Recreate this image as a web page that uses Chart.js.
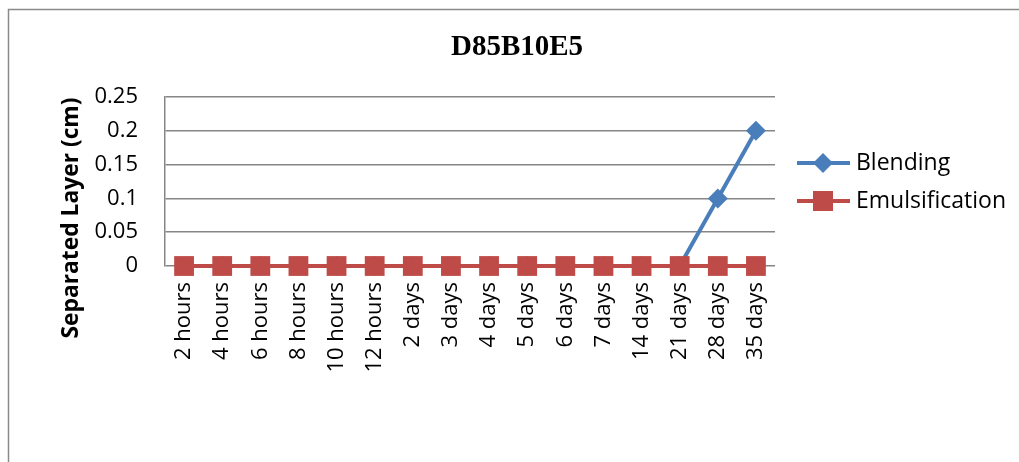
<!DOCTYPE html>
<html>
<head>
<meta charset="utf-8">
<script src="https://cdn.jsdelivr.net/npm/chart.js@4/dist/chart.umd.min.js"></script>
<style>
  html, body { margin: 0; padding: 0; background: #ffffff; }
  #wrap { width: 1019px; height: 462px; position: relative; }
</style>
</head>
<body>
<div id="wrap"><canvas id="c" width="1019" height="462"></canvas></div>
<script>
const chartTitle = 'D85B10E5';
const yAxisTitle = 'Separated Layer (cm)';
const categories = ['2 hours','4 hours','6 hours','8 hours','10 hours','12 hours','2 days','3 days','4 days','5 days','6 days','7 days','14 days','21 days','28 days','35 days'];
const blending = [0,0,0,0,0,0,0,0,0,0,0,0,0,0,0.1,0.2];
const emulsification = [0,0,0,0,0,0,0,0,0,0,0,0,0,0,0,0];
const seriesNames = ['Blending','Emulsification'];
const yTicks = [0, 0.05, 0.1, 0.15, 0.2, 0.25];

const BLUE = '#4A7EBB';
const RED = '#BE4B48';
const GRID = '#868686';
const FONT = '"Open Sans", "Liberation Sans", sans-serif';

const decorPlugin = {
  id: 'decor',
  beforeDraw(chart) {
    const ctx = chart.ctx;
    ctx.save();
    ctx.fillStyle = '#ffffff';
    ctx.fillRect(0, 0, chart.width, chart.height);
    // outer frame
    ctx.strokeStyle = '#8a8a8a';
    ctx.lineWidth = 1.5;
    ctx.beginPath();
    ctx.moveTo(8.5, chart.height + 5);
    ctx.lineTo(8.5, 9.5);
    ctx.lineTo(chart.width + 5, 9.5);
    ctx.stroke();
    ctx.restore();
  },
  afterDraw(chart) {
    const ctx = chart.ctx;
    ctx.save();
    // title
    ctx.fillStyle = '#000';
    ctx.font = 'bold 29px "Liberation Serif", "Times New Roman", serif';
    ctx.textAlign = 'center';
    ctx.textBaseline = 'middle';
    ctx.fillText(chartTitle, 517, 48);
    // y-axis title
    ctx.save();
    ctx.translate(72, 218);
    ctx.rotate(-Math.PI / 2);
    ctx.font = 'bold 20px ' + FONT;
    const w = ctx.measureText(yAxisTitle).width;
    const size = 20 * 241 / w;
    ctx.font = 'bold ' + size.toFixed(1) + 'px ' + FONT;
    ctx.textAlign = 'center';
    ctx.textBaseline = 'middle';
    ctx.fillText(yAxisTitle, 0, 0);
    ctx.restore();
    // legend
    const items = chart.data.datasets.map(d => d);
    const ys = [163, 201];
    items.forEach((ds, i) => {
      const y = ys[i];
      ctx.strokeStyle = ds.borderColor;
      ctx.lineWidth = 4;
      ctx.beginPath();
      ctx.moveTo(797, y);
      ctx.lineTo(850, y);
      ctx.stroke();
      ctx.fillStyle = ds.backgroundColor;
      if (ds.pointStyle === 'rectRot') {
        ctx.beginPath();
        ctx.moveTo(823 - 10, y);
        ctx.lineTo(823, y - 10);
        ctx.lineTo(823 + 10, y);
        ctx.lineTo(823, y + 10);
        ctx.closePath();
        ctx.fill();
      } else {
        ctx.fillRect(823 - 10, y - 10, 20, 20);
      }
      ctx.fillStyle = '#000';
      ctx.font = '23px ' + FONT;
      ctx.textAlign = 'left';
      ctx.textBaseline = 'middle';
      ctx.fillText(ds.label, 856, y);
    });
    ctx.restore();
  }
};

new Chart(document.getElementById('c'), {
  type: 'line',
  data: {
    labels: categories,
    datasets: [
      {
        label: seriesNames[0],
        data: blending,
        borderColor: BLUE,
        backgroundColor: BLUE,
        borderWidth: 4,
        pointStyle: 'rectRot',
        pointRadius: 10,
        pointBorderWidth: 0,
        pointHoverRadius: 10,
        tension: 0,
        clip: false,
        order: 2
      },
      {
        label: seriesNames[1],
        data: emulsification,
        borderColor: RED,
        backgroundColor: RED,
        borderWidth: 4,
        pointStyle: 'rect',
        pointRadius: 14,
        pointBorderWidth: 0,
        pointHoverRadius: 14,
        tension: 0,
        clip: false,
        order: 1
      }
    ]
  },
  options: {
    responsive: false,
    animation: false,
    devicePixelRatio: 1,
    layout: { padding: { left: 0, top: 97, right: 244, bottom: 0 } },
    plugins: {
      legend: { display: false },
      title: { display: false },
      tooltip: { enabled: false }
    },
    elements: { line: { borderCapStyle: 'butt' } },
    scales: {
      x: {
        offset: true,
        grid: { display: false, drawTicks: false },
        border: { display: false },
        ticks: {
          color: '#000',
          font: { family: FONT, size: 22 },
          minRotation: 90,
          maxRotation: 90,
          padding: 16,
          autoSkip: false
        },
        afterFit(s) { s.height = 462 - 266; }
      },
      y: {
        min: 0,
        max: 0.25,
        afterBuildTicks(s) { s.ticks = yTicks.map(v => ({ value: v })); },
        grid: { color: GRID, lineWidth: 1.5, drawTicks: false },
        border: { display: true, color: GRID, width: 1.5 },
        ticks: {
          color: '#000',
          font: { family: FONT, size: 22 },
          padding: 27,
          callback: v => String(v)
        },
        afterFit(s) { s.width = 165; }
      }
    }
  },
  plugins: [decorPlugin]
});
</script>
</body>
</html>
